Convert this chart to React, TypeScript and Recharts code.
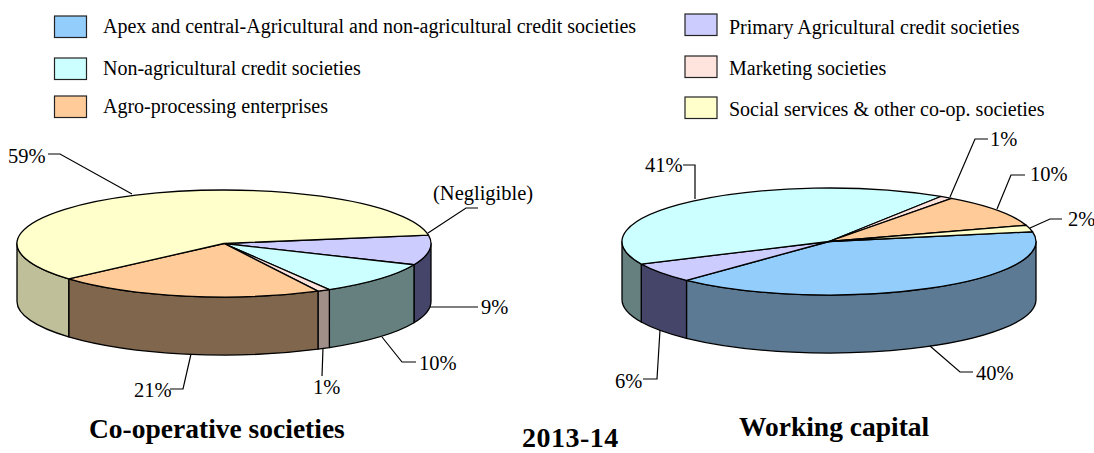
import { PieChart, Pie } from 'recharts';

const WIDTH = 1094;
const HEIGHT = 453;
const SERIF = '"Liberation Serif", "Times New Roman", serif';

// Slice order is the same clockwise order in both pies
const CATEGORIES = [
    'Apex and central-Agricultural and non-agricultural credit societies',
    'Primary Agricultural credit societies',
    'Non-agricultural credit societies',
    'Marketing societies',
    'Agro-processing enterprises',
    'Social services & other co-op. societies',
];
const SOCIETIES_VALUES = [0, 9, 10, 1, 21, 59];
const CAPITAL_VALUES = [40, 6, 41, 1, 10, 2];
const SOCIETIES_LABELS = ['(Negligible)', '9%', '10%', '1%', '21%', '59%'];
const CAPITAL_LABELS = ['40%', '6%', '41%', '1%', '10%', '2%'];

const TOP_COLORS = ['#93CDFC', '#CCCCFF', '#CCFFFF', '#FFE3DD', '#FFCC99', '#FFFFCC'];
const WALL_COLORS = ['#5C7A94', '#45456A', '#668080', '#A08E88', '#7F664D', '#BFBF99'];

// x, y of the legend swatch and text, by category index
const LEGEND_LAYOUT = [
    { x: 54.5, y: 16, tx: 103, ty: 33 },
    { x: 685, y: 14, tx: 729, ty: 34 },
    { x: 54.5, y: 58, tx: 103, ty: 75 },
    { x: 685, y: 56, tx: 729, ty: 75 },
    { x: 54.5, y: 96, tx: 103, ty: 113 },
    { x: 685, y: 97, tx: 729, ty: 116 },
];

// leader line and text anchor for each slice's callout
const SOCIETIES_CALLOUTS = [
    { line: '428,233 466,208 478,208', x: 433, y: 200 },
    { line: '430,307 478,307', x: 481, y: 314 },
    { line: '382,337 402,362 416,362', x: 419, y: 370 },
    { line: '323,348 322,376', x: 313, y: 394 },
    { line: '191,354 183,389 170,389', x: 134, y: 397 },
    { line: '132,194 60,154 48,154', x: 8, y: 163 },
];
const CAPITAL_CALLOUTS = [
    { line: '930,346 960,372 973,372', x: 976, y: 380 },
    { line: '660,330 657,379 643,379', x: 615, y: 388 },
    { line: '695,199 695,165 683,165', x: 645, y: 172 },
    { line: '950,197 975,139 988,139', x: 990, y: 146 },
    { line: '997,209 1011,175 1025,175', x: 1030, y: 181 },
    { line: '1030,228 1050,219 1062,219', x: 1068, y: 226 },
];

const RX = 207;
const RY = 53.5;
const DEPTH = 58;

const rows = (values: number[]) =>
    CATEGORIES.map((name, i) => ({
        name,
        value: values[i],
        fill: TOP_COLORS[i],
        wall: WALL_COLORS[i],
    }));

const point = (cx: number, cy: number, deg: number) => {
    const rad = (deg * Math.PI) / 180;
    return [cx + RX * Math.cos(rad), cy + RY * Math.sin(rad)];
};

// top face of a slice, the pie's circle squashed into an ellipse
const TopSlice = (props: any) => {
    const { cx, cy, startAngle, endAngle, fill } = props;
    const from = -startAngle;
    const to = -endAngle;
    if (to - from <= 0) return null;
    const [x0, y0] = point(cx, cy, from);
    const [x1, y1] = point(cx, cy, to);
    const large = to - from > 180 ? 1 : 0;
    return (
        <path
            d={`M${cx},${cy} L${x0},${y0} A${RX},${RY} 0 ${large} 1 ${x1},${y1} Z`}
            fill={fill}
            stroke="#000"
            strokeWidth={1.3}
            strokeLinejoin="round"
        />
    );
};

// side wall, only the part of the slice facing the viewer
const WallSlice = (props: any) => {
    const { cx, cy, startAngle, endAngle, wall } = props;
    const from = -startAngle;
    const to = -endAngle;
    const lo = Math.max(from, 0);
    const hi = Math.min(to, 180);
    if (hi <= lo) return null;
    const [x0, y0] = point(cx, cy, lo);
    const [x1, y1] = point(cx, cy, hi);
    return (
        <path
            d={`M${x0},${y0} A${RX},${RY} 0 0 1 ${x1},${y1} L${x1},${y1 + DEPTH} A${RX},${RY} 0 0 0 ${x0},${y0 + DEPTH} Z`}
            fill={wall}
            stroke="#000"
            strokeWidth={1.3}
            strokeLinejoin="round"
        />
    );
};

const callout = (texts: string[], layout: { line: string; x: number; y: number }[]) => (props: any) => {
    const item = layout[props.index];
    return (
        <g key={props.index}>
            <polyline points={item.line} fill="none" stroke="#000" strokeWidth={1.2} />
            <text x={item.x} y={item.y} fontFamily={SERIF} fontSize={20.5} fill="#000">
                {texts[props.index]}
            </text>
        </g>
    );
};

export default function App() {
    const pieProps = {
        dataKey: 'value',
        nameKey: 'name',
        outerRadius: RX,
        paddingAngle: 0,
        isAnimationActive: false,
        labelLine: false,
    };
    const leftAngles = { startAngle: 9, endAngle: -351 };
    const rightAngles = { startAngle: 10.5, endAngle: -349.5 };

    return (
        <div style={{ position: 'absolute', left: 0, top: 0, width: WIDTH, height: HEIGHT, background: '#fff' }}>
            <PieChart width={WIDTH} height={HEIGHT} margin={{ top: 0, right: 0, bottom: 0, left: 0 }}>
                <Pie {...pieProps} {...leftAngles} data={rows(SOCIETIES_VALUES)} cx={224} cy={243.5} shape={WallSlice} />
                <Pie
                    {...pieProps}
                    {...leftAngles}
                    data={rows(SOCIETIES_VALUES)}
                    cx={224}
                    cy={243.5}
                    shape={TopSlice}
                    label={callout(SOCIETIES_LABELS, SOCIETIES_CALLOUTS)}
                />
                <Pie {...pieProps} {...rightAngles} data={rows(CAPITAL_VALUES)} cx={829} cy={241.5} shape={WallSlice} />
                <Pie
                    {...pieProps}
                    {...rightAngles}
                    data={rows(CAPITAL_VALUES)}
                    cx={829}
                    cy={241.5}
                    shape={TopSlice}
                    label={callout(CAPITAL_LABELS, CAPITAL_CALLOUTS)}
                />

                {CATEGORIES.map((name, i) => (
                    <g key={name}>
                        <rect
                            x={LEGEND_LAYOUT[i].x}
                            y={LEGEND_LAYOUT[i].y}
                            width={32}
                            height={21.5}
                            fill={TOP_COLORS[i]}
                            stroke="#222"
                            strokeWidth={1.2}
                        />
                        <text x={LEGEND_LAYOUT[i].tx} y={LEGEND_LAYOUT[i].ty} fontFamily={SERIF} fontSize={20} fill="#000">
                            {name}
                        </text>
                    </g>
                ))}

                <text x={89} y={438} fontFamily={SERIF} fontSize={27.5} fontWeight="bold" fill="#000">
                    Co-operative societies
                </text>
                <text x={522} y={447} fontFamily={SERIF} fontSize={28} fontWeight="bold" letterSpacing={0.5} fill="#000">
                    2013-14
                </text>
                <text x={739} y={436} fontFamily={SERIF} fontSize={27.5} fontWeight="bold" fill="#000">
                    Working capital
                </text>
            </PieChart>
        </div>
    );
}
